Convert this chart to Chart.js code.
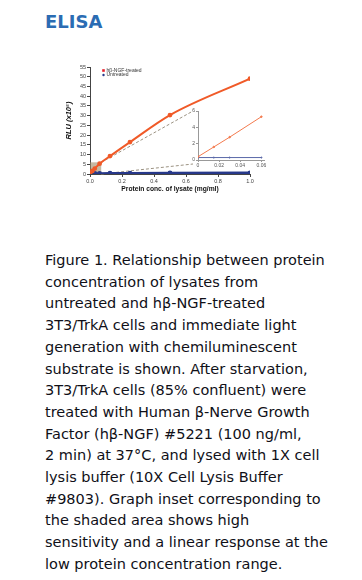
<!DOCTYPE html>
<html>
<head>
<meta charset="utf-8">
<script src="https://cdn.jsdelivr.net/npm/chart.js@4.4.0/dist/chart.umd.min.js"></script>
<style>
body { margin: 0; background: #fff; width: 362px; height: 580px; position: relative; overflow: hidden; }
h2 { position: absolute; left: 45px; top: 13px; margin: 0; font: bold 18px/18px "DejaVu Sans", sans-serif; color: #2b6cb3; }
#main { position: absolute; left: 40px; top: 55px; }
#inset { position: absolute; left: 185px; top: 105px; }
.caption { position: absolute; left: 45px; top: 250px; margin: 0; font: 14.5px/21.7px "DejaVu Sans", sans-serif; color: #101018; white-space: nowrap; }
</style>
</head>
<body>
<h2>ELISA</h2>
<canvas id="main" width="240" height="145"></canvas>
<canvas id="inset" width="85" height="68"></canvas>
<p class="caption">Figure 1. Relationship between protein<br>concentration of lysates from<br>untreated and hβ-NGF-treated<br>3T3/TrkA cells and immediate light<br>generation with chemiluminescent<br>substrate is shown. After starvation,<br>3T3/TrkA cells (85% confluent) were<br>treated with Human β-Nerve Growth<br>Factor (hβ-NGF) #5221 (100 ng/ml,<br>2 min) at 37°C, and lysed with 1X cell<br>lysis buffer (10X Cell Lysis Buffer<br>#9803). Graph inset corresponding to<br>the shaded area shows high<br>sensitivity and a linear response at the<br>low protein concentration range.</p>
<script>
// protein conc. (mg/ml) and RLU (x10^5)
const conc = [0, 0.015, 0.03, 0.06, 0.125, 0.25, 0.5, 1.0];
const treated = [0.4, 1.6, 2.8, 5.3, 9.2, 16.4, 30.3, 49.0];
const untreated = [0.3, 0.3, 0.3, 0.3, 0.35, 0.4, 0.5, 0.6];
const seriesNames = ['hβ-NGF-treated', 'Untreated'];

const mainXTicks = [0, 0.2, 0.4, 0.6, 0.8, 1.0];
const mainYTicks = [0, 5, 10, 15, 20, 25, 30, 35, 40, 45, 50, 55];
const insetXTicks = [0, 0.02, 0.04, 0.06];
const insetYTicks = [0, 2, 4, 6];
const shadedX = 0.07, shadedY = 6;   // area shown in the inset
const insetPoints = 4;               // points with conc <= 0.06

const orange = '#f05a28';
const navy = '#27388a';

function pts(ys, n) {
    return conc.slice(0, n).map((x, i) => ({ x: x, y: ys[i] }));
}
function setTicks(list) {
    return s => { s.ticks = list.map(v => ({ value: v })); };
}
function fixY(w) {
    return s => { s.width = w; s.paddingTop = 0; s.paddingBottom = 0; };
}
function fixX(h) {
    return s => { s.height = h; s.paddingLeft = 0; s.paddingRight = 0; };
}

// inset chart
const insetChart = new Chart(document.getElementById('inset'), {
    type: 'line',
    data: {
        datasets: [{
            label: seriesNames[0],
            data: pts(treated, insetPoints),
            borderColor: '#f37a4e',
            backgroundColor: '#f37a4e',
            borderWidth: 1,
            pointRadius: 0.8
        }, {
            label: seriesNames[1],
            data: pts(untreated, insetPoints),
            borderColor: '#5a68a8',
            backgroundColor: '#5a68a8',
            borderWidth: 1,
            pointRadius: 0.6
        }]
    },
    options: {
        responsive: false,
        animation: false,
        devicePixelRatio: 1,
        layout: { padding: { left: 0, top: 6, right: 6, bottom: 0 } },
        plugins: { legend: { display: false }, tooltip: { enabled: false } },
        scales: {
            x: {
                type: 'linear', min: 0, max: 0.0625,
                afterBuildTicks: setTicks(insetXTicks),
                afterFit: fixX(13),
                grid: { drawOnChartArea: false, tickLength: 2, color: '#999' },
                border: { color: '#999' },
                ticks: { padding: 1, color: '#555', font: { size: 5, family: 'Liberation Sans' },
                    callback: v => v === 0 ? '0' : v.toFixed(2) }
            },
            y: {
                min: 0, max: 6,
                afterBuildTicks: setTicks(insetYTicks),
                afterFit: fixY(13),
                grid: { drawOnChartArea: false, tickLength: 2, color: '#999' },
                border: { color: '#999' },
                ticks: { padding: 1, color: '#555', font: { size: 5, family: 'Liberation Sans' } }
            }
        }
    }
});

// shaded area + dashed lines to the inset
const zoomPlugin = {
    id: 'zoomBox',
    beforeDatasetsDraw(chart) {
        const { ctx, scales: { x, y } } = chart;
        const x0 = x.getPixelForValue(0), x1 = x.getPixelForValue(shadedX);
        const y0 = y.getPixelForValue(0), y1 = y.getPixelForValue(shadedY);
        ctx.save();
        ctx.fillStyle = 'rgba(160,138,100,0.6)';
        ctx.fillRect(x0, y1, x1 - x0, y0 - y1);
        const a = insetChart.chartArea;
        const mr = chart.canvas.getBoundingClientRect();
        const ir = insetChart.canvas.getBoundingClientRect();
        const dx = ir.left - mr.left, dy = ir.top - mr.top;
        ctx.setLineDash([3, 2]);
        ctx.strokeStyle = '#9b9282';
        ctx.lineWidth = 1;
        ctx.beginPath();
        ctx.moveTo(x1, y1);
        ctx.lineTo(dx + a.left - 5, dy + a.top);
        ctx.moveTo(x1, y0);
        ctx.lineTo(dx + a.left - 5, dy + a.bottom + 4);
        ctx.stroke();
        ctx.restore();
    }
};

// small legend in the upper left of the plot
const legendPlugin = {
    id: 'cornerLegend',
    afterDraw(chart) {
        const { ctx, chartArea } = chart;
        ctx.save();
        ctx.font = '5px "Liberation Sans", sans-serif';
        ctx.textBaseline = 'middle';
        chart.data.datasets.forEach((ds, i) => {
            const x = chartArea.left + 13.5, y = chartArea.top + 3.5 + i * 4.5;
            ctx.fillStyle = i === 0 ? '#e8202a' : ds.borderColor;
            if (i === 0) {
                ctx.fillRect(x - 1.3, y - 1.3, 2.6, 2.6);
            } else {
                ctx.beginPath();
                ctx.arc(x, y, 1.2, 0, 2 * Math.PI);
                ctx.fill();
            }
            ctx.fillStyle = '#333';
            ctx.fillText(ds.label, x + 3, y);
        });
        ctx.restore();
    }
};

new Chart(document.getElementById('main'), {
    type: 'line',
    data: {
        datasets: [{
            label: seriesNames[0],
            data: pts(treated, conc.length),
            borderColor: orange,
            backgroundColor: orange,
            borderWidth: 2,
            pointRadius: 1.4,
            cubicInterpolationMode: 'monotone'
        }, {
            label: seriesNames[1],
            data: pts(untreated, conc.length),
            borderColor: navy,
            backgroundColor: navy,
            borderWidth: 2.5,
            pointRadius: 1.2
        }]
    },
    options: {
        responsive: false,
        animation: false,
        devicePixelRatio: 1,
        layout: { padding: { left: 0, top: 12, right: 30, bottom: 0 } },
        plugins: { legend: { display: false }, tooltip: { enabled: false } },
        scales: {
            x: {
                type: 'linear', min: 0, max: 1,
                afterBuildTicks: setTicks(mainXTicks),
                afterFit: fixX(26),
                grid: { drawOnChartArea: false, tickLength: 3, color: '#444' },
                border: { color: '#444' },
                ticks: { padding: 1, color: '#444', font: { size: 5.5, family: 'Liberation Sans' },
                    callback: v => v.toFixed(1) },
                title: { display: true, text: 'Protein conc. of lysate (mg/ml)', color: '#111',
                    padding: { top: 0, bottom: 7 },
                    font: { size: 6.7, weight: 'bold', family: 'Liberation Sans' } }
            },
            y: {
                min: 0, max: 55,
                afterBuildTicks: setTicks(mainYTicks),
                afterFit: fixY(50),
                grid: { drawOnChartArea: false, tickLength: 3, color: '#444' },
                border: { color: '#444' },
                ticks: { padding: 1, color: '#444', font: { size: 5.5, family: 'Liberation Sans' } },
                title: { display: true, text: 'RLU (x10⁵)', color: '#111',
                    padding: { top: 24, bottom: 0 },
                    font: { size: 7.5, weight: 'bold', style: 'italic', family: 'Liberation Sans' } }
            }
        }
    },
    plugins: [zoomPlugin, legendPlugin]
});
</script>
</body>
</html>
